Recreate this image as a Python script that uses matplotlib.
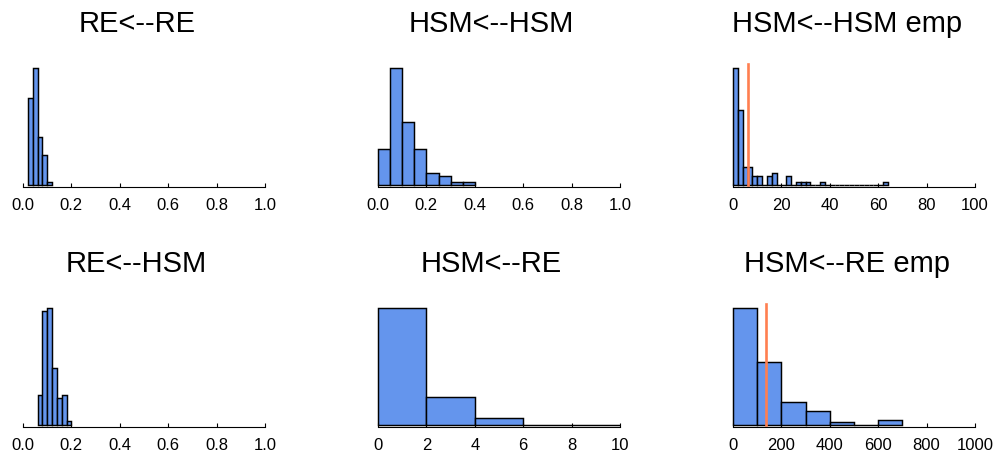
import numpy as np
import matplotlib
matplotlib.use("Agg")
import matplotlib.pyplot as plt

plt.rcParams['font.family'] = ['Liberation Sans', 'DejaVu Sans']

# bin edges and counts for each histogram
re_re_edges = [0.02, 0.04, 0.06, 0.08, 0.10, 0.12]
re_re_counts = [29, 39, 16, 10, 1]

hsm_hsm_edges = [0.0, 0.05, 0.10, 0.15, 0.20, 0.25, 0.30, 0.35, 0.40]
hsm_hsm_counts = [12, 39, 21, 12, 4, 3, 1, 1]

hsm_hsm_emp_edges = list(range(0, 66, 2))
hsm_hsm_emp_counts = [39, 25, 6, 6, 3, 3, 0, 3, 4, 0, 0, 3, 0, 1, 1, 1,
                      0, 0, 1, 0, 0, 0, 0, 0, 0, 0, 0, 0, 0, 0, 0, 1]
hsm_hsm_emp_obs = 6.3

re_hsm_edges = [0.06, 0.08, 0.10, 0.12, 0.14, 0.16, 0.18, 0.20]
re_hsm_counts = [10, 38, 39, 19, 9, 10, 1.4]

hsm_re_edges = [0, 2, 4, 6, 8, 10]
hsm_re_counts = [140, 33, 8, 0, 0]

hsm_re_emp_edges = [0, 100, 200, 300, 400, 500, 600, 700]
hsm_re_emp_counts = [39, 21, 7.6, 4.7, 1, 0, 1.7]
hsm_re_emp_obs = 136

panels = [
    ("RE<--RE", re_re_edges, re_re_counts, None, 1.0, np.arange(0, 1.01, 0.2)),
    ("HSM<--HSM", hsm_hsm_edges, hsm_hsm_counts, None, 1.0, np.arange(0, 1.01, 0.2)),
    ("HSM<--HSM emp", hsm_hsm_emp_edges, hsm_hsm_emp_counts, hsm_hsm_emp_obs, 100, np.arange(0, 101, 20)),
    ("RE<--HSM", re_hsm_edges, re_hsm_counts, None, 1.0, np.arange(0, 1.01, 0.2)),
    ("HSM<--RE", hsm_re_edges, hsm_re_counts, None, 10, np.arange(0, 11, 2)),
    ("HSM<--RE emp", hsm_re_emp_edges, hsm_re_emp_counts, hsm_re_emp_obs, 1000, np.arange(0, 1001, 200)),
]

W, H = 997, 454
fig = plt.figure(figsize=(W / 100, H / 100), dpi=100)

lefts = [23, 378, 733]
bottoms = [185, 425]
ax_w, ax_h = 242, 117

for i, (title, edges, counts, obs, xmax, ticks) in enumerate(panels):
    r, c = divmod(i, 3)
    ax = fig.add_axes([lefts[c] / W, 1 - bottoms[r] / H, ax_w / W, ax_h / H])
    edges = np.asarray(edges, dtype=float)
    centers = (edges[:-1] + edges[1:]) / 2
    _, _, patches = ax.hist(centers, bins=edges, weights=counts,
                            color='#6495ED', edgecolor='black', linewidth=1.05)
    for p in patches:
        p.set_clip_on(False)
    if obs is not None:
        ax.axvline(obs, ymin=0, ymax=1.03, color='#FF7F50', lw=1.9, clip_on=False, zorder=3)
    ax.set_xlim(0, xmax)
    ax.set_ylim(0, max(counts))
    ax.set_xticks(ticks)
    for s in ['top', 'right', 'left']:
        ax.spines[s].set_visible(False)
    ax.spines['bottom'].set_position(('outward', 1.5))
    ax.spines['bottom'].set_linewidth(0.8)
    ax.set_yticks([])
    ax.tick_params(axis='x', direction='in', length=3, width=0.8, pad=7.5, labelsize=12)
    ax.set_title(title, fontsize=21, pad=26, x=0.47)

fig.savefig("out.png", dpi=100)
